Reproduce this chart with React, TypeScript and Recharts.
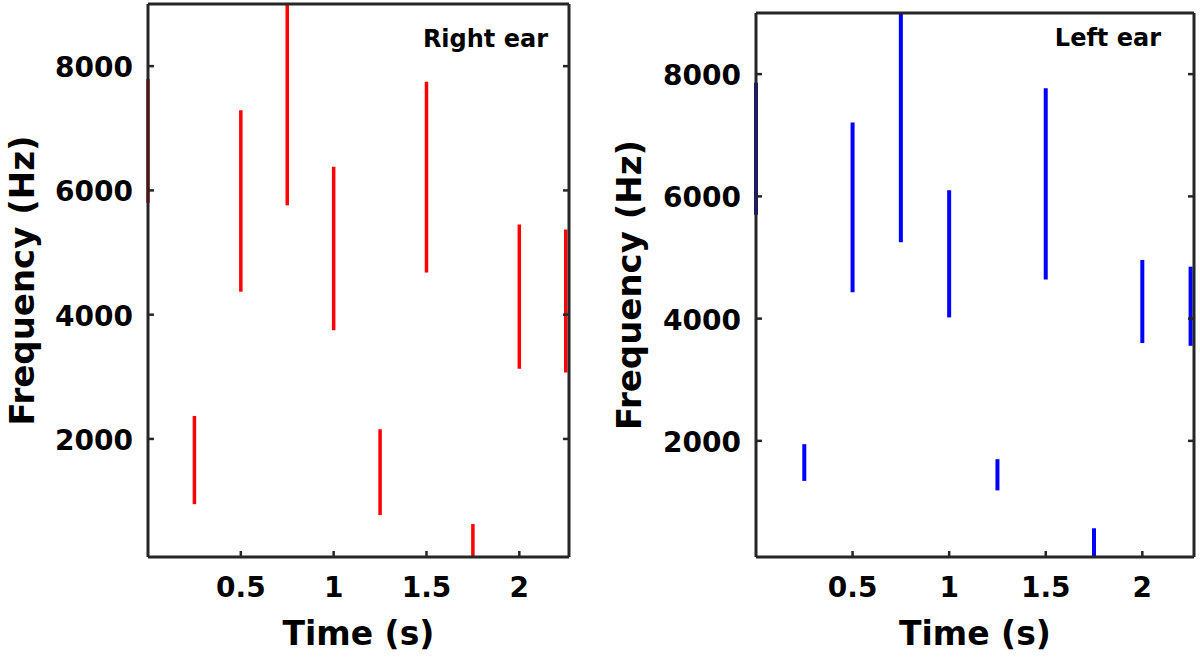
import React from 'react';
import { LineChart, Line, XAxis, YAxis } from 'recharts';

// time axis runs to the end of the recording (~100000 samples @ 44.1 kHz)
const TIME_END = 2.2676;
const FREQ_MIN = 100;
const FREQ_MAX = 9000;

const timeTicks = [0.5, 1, 1.5, 2];
const freqTicks = [2000, 4000, 6000, 8000];

// onset time of each sweep (s)
const onsets = [0, 0.25, 0.5, 0.75, 1, 1.25, 1.5, 1.75, 2, 2.25];

// right ear: lower / upper frequency of each sweep (Hz)
const rightLow = [5800, 950, 4370, 5760, 3750, 775, 4680, 100, 3130, 3070];
const rightHigh = [7790, 2370, 7290, 9000, 6380, 2156, 7750, 630, 5450, 5370];

// left ear: lower / upper frequency of each sweep (Hz)
const leftLow = [5700, 1345, 4430, 5250, 4020, 1190, 4640, 100, 3600, 3555];
const leftHigh = [7860, 1946, 7210, 9000, 6100, 1700, 7770, 570, 4960, 4850];

const AXIS = '#262626';
const FONT = '"DejaVu Sans", "Liberation Sans", Arial, sans-serif';

const BottomTick = (props: any) => {
  const { x, y, payload } = props;
  return (
    <g>
      <line x1={x} x2={x} y1={y} y2={y - 6} stroke={AXIS} strokeWidth={2.5} />
      <text x={x} y={y + 40} textAnchor="middle" fontFamily={FONT} fontWeight="bold" fontSize={28} fill="#000">
        {payload.value}
      </text>
    </g>
  );
};

const LeftTick = (props: any) => {
  const { x, y, payload } = props;
  return (
    <g>
      <line x1={x} x2={x + 6} y1={y} y2={y} stroke={AXIS} strokeWidth={2.5} />
      <text x={x - 15} y={y + 11} textAnchor="end" fontFamily={FONT} fontWeight="bold" fontSize={28} fill="#000">
        {payload.value}
      </text>
    </g>
  );
};

const TopTick = (props: any) => {
  const { x, y } = props;
  return <line x1={x} x2={x} y1={y} y2={y + 6} stroke={AXIS} strokeWidth={2.5} />;
};

const RightTick = (props: any) => {
  const { x, y } = props;
  return <line x1={x} x2={x - 6} y1={y} y2={y} stroke={AXIS} strokeWidth={2.5} />;
};

interface PanelProps {
  low: number[];
  high: number[];
  color: string;
  strokeWidth: number;
  title: string;
  titleRight: number;
  titleY: number;
  margin: { top: number; right: number; bottom: number; left: number };
  ylabelX: number;
}

const axisLine = { stroke: AXIS, strokeWidth: 3 };

function Panel({ low, high, color, strokeWidth, title, titleRight, titleY, margin, ylabelX }: PanelProps) {
  return (
    <LineChart width={600} height={660} margin={margin}>
      <XAxis
        xAxisId="b"
        dataKey="t"
        type="number"
        domain={[0, TIME_END]}
        ticks={timeTicks}
        interval={0}
        height={60}
        tickSize={0}
        tickMargin={0}
        tickLine={false}
        axisLine={axisLine}
        tick={<BottomTick />}
        label={(p: any) => {
          const vb = p.viewBox;
          return (
            <text x={vb.x + vb.width / 2} y={vb.y + 88} textAnchor="middle" fontFamily={FONT} fontWeight="bold" fontSize={33} fill="#000">
              Time (s)
            </text>
          );
        }}
      />
      <XAxis
        xAxisId="t"
        orientation="top"
        type="number"
        domain={[0, TIME_END]}
        allowDataOverflow
        ticks={timeTicks}
        interval={0}
        height={4}
        tickSize={0}
        tickMargin={0}
        tickLine={false}
        axisLine={axisLine}
        tick={<TopTick />}
        label={(p: any) => {
          const vb = p.viewBox;
          return (
            <text x={vb.x + vb.width - titleRight} y={titleY} textAnchor="end" fontFamily={FONT} fontWeight="bold" fontSize={24} fill="#000">
              {title}
            </text>
          );
        }}
      />
      <YAxis
        yAxisId="l"
        type="number"
        domain={[FREQ_MIN, FREQ_MAX]}
        ticks={freqTicks}
        interval={0}
        width={100}
        tickSize={0}
        tickMargin={0}
        tickLine={false}
        axisLine={axisLine}
        tick={<LeftTick />}
        label={(p: any) => {
          const vb = p.viewBox;
          const cy = vb.y + vb.height / 2;
          return (
            <text
              x={ylabelX}
              y={cy}
              transform={`rotate(-90, ${ylabelX}, ${cy})`}
              textAnchor="middle"
              fontFamily={FONT}
              fontWeight="bold"
              fontSize={34}
              fill="#000"
            >
              Frequency (Hz)
            </text>
          );
        }}
      />
      <YAxis
        yAxisId="r"
        orientation="right"
        type="number"
        domain={[FREQ_MIN, FREQ_MAX]}
        allowDataOverflow
        ticks={freqTicks}
        interval={0}
        width={4}
        tickSize={0}
        tickMargin={0}
        tickLine={false}
        axisLine={axisLine}
        tick={<RightTick />}
      />
      {onsets.map((t, i) => (
        <Line
          key={i}
          xAxisId="b"
          yAxisId="l"
          data={[
            { t, f: low[i] },
            { t, f: high[i] },
          ]}
          dataKey="f"
          type="linear"
          stroke={color}
          strokeWidth={strokeWidth}
          dot={false}
          activeDot={false}
          isAnimationActive={false}
        />
      ))}
    </LineChart>
  );
}

export default function App() {
  return (
    <div style={{ position: 'absolute', left: 0, top: 0, width: 1200, height: 660, background: '#fff' }}>
      <div style={{ position: 'absolute', left: 0, top: 0 }}>
        <Panel
          low={rightLow}
          high={rightHigh}
          color="#ff0000"
          strokeWidth={3.5}
          title="Right ear"
          titleRight={21}
          titleY={47}
          margin={{ top: 0, right: 27, bottom: 43, left: 48 }}
          ylabelX={34}
        />
      </div>
      <div style={{ position: 'absolute', left: 600, top: 0 }}>
        <Panel
          low={leftLow}
          high={leftHigh}
          color="#0000ff"
          strokeWidth={4}
          title="Left ear"
          titleRight={33}
          titleY={46}
          margin={{ top: 9, right: 2, bottom: 43, left: 56 }}
          ylabelX={41}
        />
      </div>
    </div>
  );
}
